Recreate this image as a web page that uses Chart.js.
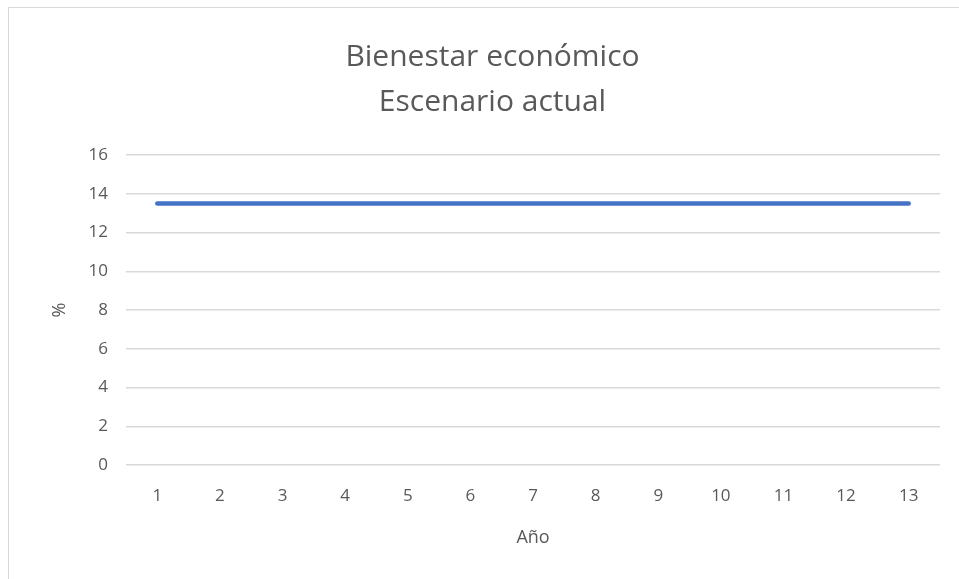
<!DOCTYPE html>
<html>
<head>
<meta charset="utf-8">
<script src="https://cdn.jsdelivr.net/npm/chart.js@4"></script>
<style>
  html, body { margin: 0; padding: 0; background: #fff; }
  .frame {
    position: absolute;
    left: 8px;
    top: 7px;
    width: 970px;
    height: 600px;
    border: 1px solid #d9d9d9;
  }
  .wrapper {
    position: absolute;
    left: 0;
    top: 0;
    width: 959px;
    height: 579px;
  }
</style>
</head>
<body>
<div class="frame"></div>
<div class="wrapper"><canvas id="chart"></canvas></div>
<script>
const years = ["1", "2", "3", "4", "5", "6", "7", "8", "9", "10", "11", "12", "13"];
const bienestar = [13.5, 13.5, 13.5, 13.5, 13.5, 13.5, 13.5, 13.5, 13.5, 13.5, 13.5, 13.5, 13.5];
const titleLines = ["Bienestar económico", "Escenario actual"];

const fontFamily = "'Open Sans', 'Noto Sans', sans-serif";
const textColor = "#595959";
const gridColor = "#d9d9d9";

const ctx = document.getElementById("chart");

new Chart(ctx, {
  type: "line",
  data: {
    labels: years,
    datasets: [
      {
        data: bienestar,
        borderColor: "#4472C4",
        borderWidth: 4.5,
        borderCapStyle: "round",
        pointRadius: 0,
        fill: false,
      },
    ],
  },
  options: {
    responsive: true,
    maintainAspectRatio: false,
    animation: false,
    layout: {
      padding: { left: 45, right: 19, top: 35, bottom: 26 },
    },
    plugins: {
      legend: { display: false },
      tooltip: { enabled: false },
      title: {
        display: true,
        text: titleLines,
        color: textColor,
        font: { family: fontFamily, size: 30, weight: 400, lineHeight: 1.5 },
        padding: { top: 0, bottom: 30 },
      },
    },
    scales: {
      x: {
        offset: true,
        border: { display: false },
        grid: { display: false },
        ticks: {
          color: textColor,
          font: { family: fontFamily, size: 17 },
          padding: 13,
        },
        title: {
          display: true,
          text: "Año",
          color: textColor,
          font: { family: fontFamily, size: 18 },
          padding: { top: 8 },
        },
      },
      y: {
        min: 0,
        max: 16,
        border: { display: false },
        grid: { color: gridColor, lineWidth: 1.5, drawTicks: false },
        ticks: {
          stepSize: 2,
          color: textColor,
          font: { family: fontFamily, size: 17 },
          padding: 18,
        },
        title: {
          display: true,
          text: "%",
          color: textColor,
          font: { family: fontFamily, size: 18 },
          padding: { bottom: 0 },
        },
      },
    },
  },
});
</script>
</body>
</html>
